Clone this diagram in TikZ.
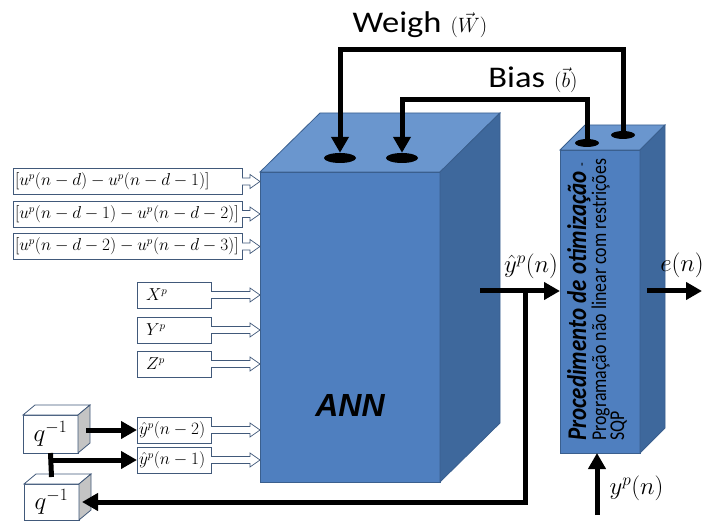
\documentclass[tikz,border=0pt]{standalone}
\usepackage{fontspec}
\usepackage{xcolor}
\usepackage{tikz}
\usetikzlibrary{arrows.meta,calc,positioning,shapes.geometric}
\newfontfamily\lblfont[FakeStretch=1.15]{Carlito}
\newfontfamily\optfont[FakeStretch=0.85]{Carlito}
\newfontfamily\annfont{Liberation Sans}
\definecolor{annfront}{HTML}{4F7FBF}
\definecolor{anntop}{HTML}{6A96CE}
\definecolor{annside}{HTML}{3E689C}
\definecolor{annedge}{HTML}{3A5F8E}
\definecolor{boxedge}{HTML}{41597A}
\definecolor{qside}{HTML}{C4C4C4}

\begin{document}
\begin{tikzpicture}[x=1pt,y=-1pt,
  face/.style={draw=annedge,line width=0.8pt,outer sep=0pt},
  qface/.style={draw=boxedge,line width=0.8pt},
  inbox/.style={draw=boxedge,fill=white,line width=0.8pt,inner sep=2pt,outer sep=0pt,align=left,font=\fontsize{16}{18}\selectfont},
  hollow/.style={draw=boxedge,fill=white,line width=0.7pt,line join=miter},
  bus/.style={line width=5pt,-{Triangle[length=16pt,width=17pt]}},
  port/.style={ellipse,fill=black,inner sep=0pt},
  qbox/.style={qface,fill=white,minimum width=55pt,outer sep=0pt,font=\fontsize{26}{28}\selectfont},
  mlabel/.style={font=\fontsize{24}{28}\selectfont}]
  \useasboundingbox (0,0) rectangle (704,521);
  % ANN block
  \node[face,fill=annfront,minimum width=180pt,minimum height=310pt] (ann) at (350,327) {};
  \draw[face,fill=anntop] (ann.north west) -- ++(60,-59) -- ++(180,0) -- (ann.north east) -- cycle;
  \draw[face,fill=annside] (ann.north east) -- ++(60,-59) -- ++(0,310) -- (ann.south east) -- cycle;
  \node[port,minimum width=32pt,minimum height=10pt] (wann) at (340,158) {};
  \node[port,minimum width=32pt,minimum height=10pt] (bann) at (402,158) {};
  \node[font=\annfont\bfseries\itshape\fontsize{32}{36}\selectfont] (annlbl) at (350,405) {ANN};
  % optimisation block
  \node[face,fill=annfront,minimum width=80pt,minimum height=303pt] (opt) at (600,301.5) {};
  \draw[face,fill=anntop] (opt.north west) -- ++(25,-25) -- ++(80,0) -- (opt.north east) -- cycle;
  \draw[face,fill=annside] (opt.north east) -- ++(25,-25) -- ++(0,303) -- (opt.south east) -- cycle;
  \node[port,minimum width=24pt,minimum height=8pt] (bopt) at (587,143) {};
  \node[port,minimum width=24pt,minimum height=8pt] (wopt) at (623,135) {};
  \node[rotate=90,anchor=north west,align=left,inner sep=0pt,
    font=\optfont\fontsize{21}{18}\selectfont] (opttxt) at (567,441)
    {{\bfseries\itshape\fontsize{27}{18}\selectfont Procedimento de otimização} {\fontsize{14}{18}\selectfont -}\\
     Programação não linear com restrições\\SQP};
  % weights and bias
  \draw[bus] (wopt.north) -- ++(0,-81) -| (wann.north);
  \draw[bus] (bopt.north) -- ++(0,-39) -| (bann.north);
  \node[font=\fontsize{30}{36}\selectfont] (weigh) at (420,25) {{\lblfont Weigh} {\fontsize{20}{24}\selectfont$(\vec{W})$}};
  \node[font=\fontsize{30}{36}\selectfont] (bias) at (533,80) {{\lblfont Bias} {\fontsize{20}{24}\selectfont$(\vec{b})$}};
  % inputs
  \foreach \n/\y/\txt in {u1/181.5/{$[u^p(n-d)-u^p(n-d-1)]$},
      u2/214/{$[u^p(n-d-1)-u^p(n-d-2)]$},u3/246.5/{$[u^p(n-d-2)-u^p(n-d-3)]$}}{
    \node[inbox,text width=225pt,minimum height=26pt,anchor=west] (\n) at (13,\y) {\mbox{\txt}};
    \draw[hollow] ($(\n.east)+(0,-3.5)$) -- ($(\n.east -| ann.west)+(-10,-3.5)$) -- ++(0,-3.5)
      -- (\n.east -| ann.west) -- ($(\n.east -| ann.west)+(-10,7)$) -- ++(0,-3.5) -- ($(\n.east)+(0,3.5)$);
  }
  \foreach \n/\y/\txt in {xp/295/{\hspace{7pt}$X^p$},yp/330/{\hspace{7pt}$Y^p$},zp/364/{\hspace{7pt}$Z^p$},
      yh2/430/{$\hat{y}^p(n-2)$},yh1/460/{$\hat{y}^p(n-1)$}}{
    \node[inbox,text width=70pt,minimum height=26pt,anchor=west] (\n) at (137,\y) {\mbox{\txt}};
    \draw[hollow] ($(\n.east)+(0,-3.5)$) -- ($(\n.east -| ann.west)+(-10,-3.5)$) -- ++(0,-3.5)
      -- (\n.east -| ann.west) -- ($(\n.east -| ann.west)+(-10,7)$) -- ++(0,-3.5) -- ($(\n.east)+(0,3.5)$);
  }
  % delays
  \node[qbox,minimum height=38pt] (q1) at (50.5,434) {$q^{-1}$};
  \draw[qface,fill=white] (q1.north west) -- ++(12,-10) -- ++(55,0) -- (q1.north east) -- cycle;
  \draw[qface,fill=qside] (q1.north east) -- ++(12,-10) -- ++(0,38) -- (q1.south east) -- cycle;
  \node[qbox,minimum height=36pt] (q2) at (51.5,502) {$q^{-1}$};
  \draw[qface,fill=white] (q2.north west) -- ++(12,-10) -- ++(55,0) -- (q2.north east) -- cycle;
  \draw[qface,fill=qside] (q2.north east) -- ++(12,-10) -- ++(0,36) -- (q2.south east) -- cycle;
  \draw[bus] ($(q1.east |- yh2.west)+(8,0)$) -- (yh2.west);
  \draw[line width=5pt] (q1.south) -- ([yshift=7pt]q2.north);
  \draw[bus] (q1.south |- yh1.west) -- (yh1.west);
  % outputs and feedback
  \coordinate (annout) at (480,291);
  \coordinate (branch) at (525,291);
  \draw[bus] (annout) -- (annout -| opt.west);
  \node[mlabel] (yhatlbl) at (531,266) {$\hat{y}^p(n)$};
  \draw[bus] (branch) |- ($(q2.east)+(3,0)$);
  \coordinate (optout) at (647,291);
  \coordinate (eend) at (702,291);
  \draw[bus] (optout) -- (eend);
  \node[mlabel] (elbl) at (682,265) {$e(n)$};
  \coordinate (ymeas) at (597,515);
  \draw[bus] (ymeas) -- (ymeas |- opt.south);
  \node[mlabel,anchor=west] (ylbl) at (606,488) {$y^p(n)$};
\end{tikzpicture}
\end{document}
